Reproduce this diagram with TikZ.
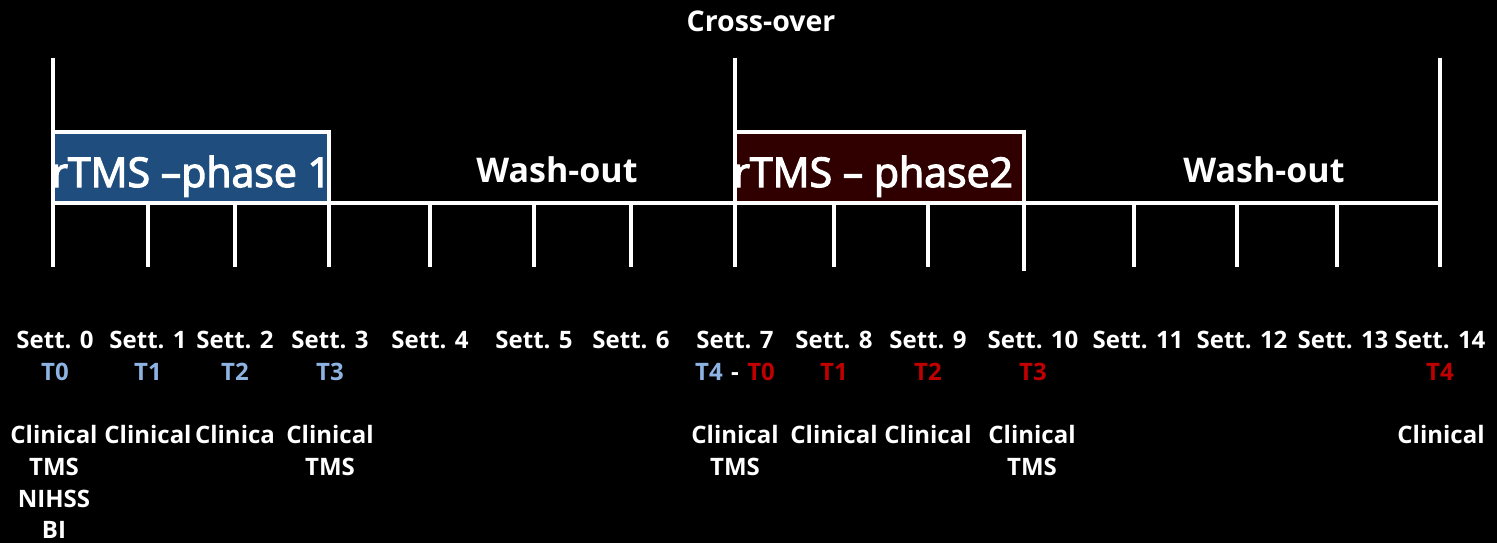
\documentclass[tikz,border=0pt]{standalone}
\usepackage{fontspec}
\setmainfont{Open Sans}
\newfontfamily\semib[FakeBold=3]{Open Sans}
\definecolor{phaseblue}{HTML}{1F4E7E}
\definecolor{phasered}{HTML}{300000}
\definecolor{tblue}{HTML}{8DB3E2}
\definecolor{tred}{HTML}{C00000}
\begin{document}
\begin{tikzpicture}[x=1pt,y=-1pt,
  axis/.style={draw=white,line width=4pt},
  lbl/.style={text=white,font=\fontsize{24}{24}\selectfont\bfseries,inner sep=0pt,anchor=base},
  tb/.style={lbl,text=tblue},
  tr/.style={lbl,text=tred},
  big/.style={text=white,font=\fontsize{41}{41}\selectfont\semib,inner sep=0pt,anchor=base west},
  wash/.style={text=white,font=\fontsize{34}{34}\selectfont\bfseries,inner sep=0pt,anchor=base}]
\useasboundingbox[fill=black] (0,0) rectangle (1497,543);
% phase boxes
\node[fill=phaseblue,inner sep=0pt,minimum width=276pt,minimum height=71pt,anchor=north west] (p1box) at (53,132) {};
\node[fill=phasered,inner sep=0pt,minimum width=289pt,minimum height=71pt,anchor=north west] (p2box) at (735,132) {};
% coordinates
\foreach \i/\x in {0/53,1/148,2/235,3/329,4/430,5/534,6/631,7/735,8/834,9/928,10/1024,11/1134,12/1237,13/1337,14/1440}{
  \coordinate (t\i) at (\x,203);
  \coordinate (b\i) at (\x,267);
}
\coordinate (top0) at (53,58);
\coordinate (top7) at (735,58);
\coordinate (top14) at (1440,58);
\coordinate (p1tl) at (53,132);
\coordinate (p1tr) at (329,132);
\coordinate (p2tl) at (735,132);
\coordinate (p2tr) at (1024,132);
\coordinate (b10x) at (1024,271);
% axis
\draw[axis] (t0) -- (t14);
\foreach \i in {1,2,4,5,6,8,9,11,12,13}{\draw[axis] (t\i) -- (b\i);}
\draw[axis] (top0) -- (b0);
\draw[axis] (top7) -- (b7);
\draw[axis] (top14) -- (b14);
\draw[axis] (p1tl) -- (p1tr) -- (b3);
\draw[axis] (p2tl) -- (p2tr) -- (b10x);
% phase texts
\node[big] (ph1) at (51,187) {rTMS –phase 1};
\node[big] (ph2) at (733,187) {rTMS – phase2};
\node[wash] (w1) at (557,182) {Wash-out};
\node[wash] (w2) at (1264,182) {Wash-out};
\node[text=white,font=\fontsize{28.5}{28.5}\selectfont\bfseries,inner sep=0pt,anchor=base] (cross) at (761,32) {Cross-over};
% week labels
\foreach \i/\x in {0/55,1/148,2/235,3/330,4/430,5/534,6/631,7/735,8/834,9/928,10/1033,11/1138,12/1242,13/1343,14/1440}{
  \node[lbl] (s\i) at (\x,348) {Sett. \i};
}
% T labels
\node[tb] (a0) at (55,380) {T0};
\node[tb] (a1) at (148,380) {T1};
\node[tb] (a2) at (235,380) {T2};
\node[tb] (a3) at (330,380) {T3};
\node[lbl] (a4) at (735,380) {\textcolor{tblue}{T4}\hspace{0.35em}-\hspace{0.35em}\textcolor{tred}{T0}};
\node[tr] (c1) at (834,380) {T1};
\node[tr] (c2) at (928,380) {T2};
\node[tr] (c3) at (1033,380) {T3};
\node[tr] (c4) at (1440,380) {T4};
% measures
\node[lbl] (m0a) at (54,443) {Clinical};
\node[lbl] (m0b) at (54,475) {TMS};
\node[lbl] (m0c) at (54,507) {NIHSS};
\node[lbl] (m0d) at (54,538) {BI};
\node[lbl] (m1) at (148,443) {Clinical};
\node[lbl] (m2) at (235,443) {Clinica};
\node[lbl] (m3a) at (330,443) {Clinical};
\node[lbl] (m3b) at (330,475) {TMS};
\node[lbl] (m7a) at (735,443) {Clinical};
\node[lbl] (m7b) at (735,475) {TMS};
\node[lbl] (m8) at (834,443) {Clinical};
\node[lbl] (m9) at (928,443) {Clinical};
\node[lbl] (m10a) at (1032,443) {Clinical};
\node[lbl] (m10b) at (1032,475) {TMS};
\node[lbl] (m14) at (1441,443) {Clinical};
\end{tikzpicture}
\end{document}
